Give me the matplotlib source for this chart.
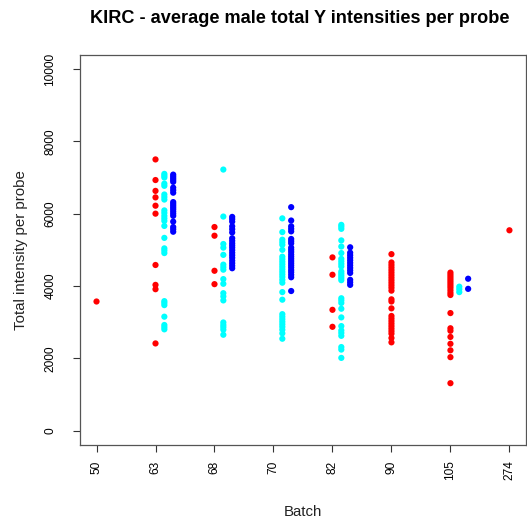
import numpy as np
import matplotlib
matplotlib.use('Agg')
import matplotlib.pyplot as plt

plt.rcParams['font.family'] = ['Liberation Sans', 'DejaVu Sans']

# batches shown on the x axis
batches = ['50', '63', '68', '70', '82', '90', '105', '274']

# average total Y intensity per probe, grouped by batch and colour group
red_vals = {
    '50': [3570],
    '63': [7500, 6930, 6630, 6450, 6220, 6000, 4580, 4030, 3910, 2410],
    '68': [5630, 5390, 4420, 4050],
    '82': [4790, 4310, 3340, 2870],
    '90': [4880, 4650, 4580, 4510, 4440, 4370, 4300, 4230, 4160, 4090, 4020, 3950,
           3870, 3630, 3570, 3380, 3170, 3100, 3030, 2960, 2890, 2820, 2750, 2680,
           2560, 2440],
    '105': [4370, 4310, 4250, 4190, 4130, 4070, 4010, 3950, 3880, 3810, 3750, 3250,
            2830, 2760, 2590, 2400, 2220, 2030, 1310],
    '274': [5540],
}
cyan_vals = {
    '63': [7100, 7050, 7000, 6830, 6770, 6530, 6460, 6390, 6090, 6020, 5940, 5870,
           5800, 5660, 5330, 5040, 4980, 4910, 3580, 3530, 3470, 3150, 2920, 2860, 2800],
    '68': [7220, 5920, 5160, 5060, 4860, 4590, 4520, 4450, 4190, 4060, 3800, 3710,
           3600, 2990, 2920, 2860, 2790, 2650],
    '70': [5870, 5490, 5280, 5210, 5140, 5000, 4810, 4740, 4670, 4600, 4530, 4460,
           4390, 4320, 4250, 4170, 4090, 3830, 3620, 3220, 3150, 3080, 3010, 2940,
           2870, 2790, 2690, 2540],
    '82': [5690, 5640, 5580, 5260, 5090, 4910, 4750, 4680, 4610, 4540, 4400, 4340,
           4280, 4220, 4160, 3660, 3600, 3530, 3370, 3130, 2890, 2770, 2700, 2620,
           2310, 2240, 2010],
    '105': [3980, 3910, 3830],
}
blue_vals = {
    '63': [7080, 7030, 6980, 6930, 6880, 6720, 6650, 6580, 6320, 6270, 6220, 6170,
           6120, 6060, 6000, 5940, 5780, 5630, 5570, 5500],
    '68': [5910, 5850, 5780, 5650, 5570, 5480, 5320, 5250, 5180, 5120, 5060, 4990,
           4920, 4850, 4780, 4700, 4630, 4560, 4490],
    '70': [6180, 5810, 5650, 5580, 5510, 5300, 5240, 5180, 5060, 5000, 4940, 4870,
           4810, 4750, 4690, 4630, 4570, 4510, 4440, 4380, 4310, 4240, 3860],
    '82': [5070, 4920, 4850, 4780, 4710, 4640, 4570, 4500, 4430, 4360, 4170, 4100, 4030],
    '105': [4200, 3920],
}

fig = plt.figure(figsize=(5.27, 5.20), dpi=100)
ax = fig.add_axes([0.1518, 0.1442, 0.8462, 0.7508])

groups = [(red_vals, '#FF0000', 0.0), (cyan_vals, '#00FFFF', 0.15), (blue_vals, '#0000FF', 0.30)]
for vals, col, off in groups:
    for i, b in enumerate(batches):
        if b not in vals:
            continue
        y = np.array(vals[b])
        x = np.full(len(y), i + 1 + off)
        ax.scatter(x, y, s=20, color=col, edgecolors='none', zorder=3)

ax.set_xlim(0.72, 8.28)
ax.set_ylim(-400, 10400)
ax.set_xticks(np.arange(1, len(batches) + 1))
ax.set_xticklabels(batches, rotation=90, fontsize=8.6)
ax.set_yticks(np.arange(0, 10001, 2000))
ax.set_yticklabels([str(v) for v in range(0, 10001, 2000)], rotation=90, va='center', fontsize=8.6)
ax.tick_params(axis='both', length=5, width=0.8, color='#333333', direction='out')
ax.tick_params(axis='x', pad=6)
ax.tick_params(axis='y', pad=12)
for sp in ax.spines.values():
    sp.set_color('#555555')
    sp.set_linewidth(0.9)

ax.set_xlabel('Batch', fontsize=10.8, labelpad=18, color='#222222')
ax.set_ylabel('Total intensity per probe', fontsize=10.8, labelpad=12, color='#222222')
fig.text(0.569, 0.965, 'KIRC - average male total Y intensities per probe',
         ha='center', va='center', fontsize=13.1, fontweight='bold')

fig.savefig('out.png', dpi=100)
